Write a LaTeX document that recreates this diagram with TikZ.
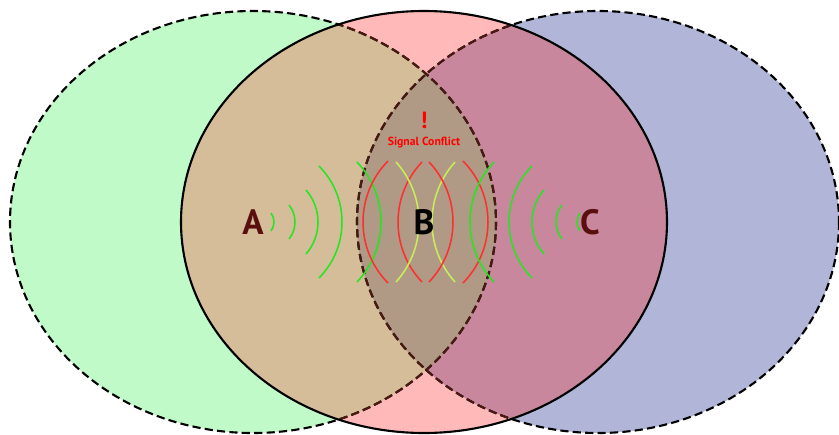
\documentclass[tikz,border=0pt]{standalone}
\usepackage{fontspec}
\setmainfont{PT Sans}
\usepackage{xcolor}
\usepackage{tikz}
\definecolor{zonegreen}{HTML}{C0FAC8}
\definecolor{zonepink}{HTML}{FFB9B9}
\definecolor{zoneblue}{HTML}{B1B5D7}
\definecolor{mixab}{HTML}{D5BD99}
\definecolor{mixbc}{HTML}{C9879D}
\definecolor{mixabc}{HTML}{B09A85}
\definecolor{lensbrown}{HTML}{4A1A12}
\definecolor{wavegreen}{HTML}{22E622}
\definecolor{wavered}{HTML}{FF2E2E}
\definecolor{waveyellow}{HTML}{C8EE5A}
\definecolor{apname}{HTML}{5A0F0F}

\begin{document}
\begin{tikzpicture}[x=0.3mm,y=-0.3mm,
    zone/.style={line width=1.8pt},
    zonedash/.style={zone,dash pattern=on 7pt off 3.6pt},
    wave/.style={line width=1.3pt},
    apfont/.style={font=\fontsize{30}{30}\selectfont\bfseries}]
  % Three overlapping coverage zones, A / B / C, pixel units (y down)
  \def\cy{222}          % common centre line
  \def\rx{243}          % x radius
  \def\ry{211}          % y radius
  \def\ca{253}          % centre of zone A
  \def\cb{424}          % centre of zone B
  \def\cc{598}          % centre of zone C
  \useasboundingbox (0,0) rectangle (839,435);
  % --- Zone fills ---
  \fill[zonegreen] (\ca,\cy) ellipse[x radius=\rx,y radius=\ry];
  \fill[zoneblue]  (\cc,\cy) ellipse[x radius=241,y radius=\ry];
  \fill[zonepink]  (\cb,\cy) ellipse[x radius=\rx,y radius=\ry];
  % --- Overlaps ---
  \begin{scope}
    \clip (\cb,\cy) ellipse[x radius=\rx,y radius=\ry];
    \fill[mixab] (\ca,\cy) ellipse[x radius=\rx,y radius=\ry];
    \fill[mixbc] (\cc,\cy) ellipse[x radius=241,y radius=\ry];
    \clip (\ca,\cy) ellipse[x radius=\rx,y radius=\ry];
    \fill[mixabc] (\cc,\cy) ellipse[x radius=241,y radius=\ry];
  \end{scope}
  % --- Borders: A and C dashed, B solid ---
  \draw[zonedash] (\ca,\cy) ellipse[x radius=\rx,y radius=\ry];
  \draw[zonedash] (\cc,\cy) ellipse[x radius=241,y radius=\ry];
  \begin{scope}
    \clip (\cb,\cy) ellipse[x radius=\rx,y radius=\ry];
    \draw[zonedash,lensbrown] (\ca,\cy) ellipse[x radius=\rx,y radius=\ry];
    \draw[zonedash,lensbrown] (\cc,\cy) ellipse[x radius=241,y radius=\ry];
  \end{scope}
  \draw[zone] (\cb,\cy) ellipse[x radius=\rx,y radius=\ry];
  % --- Waves: apex x / half height / bulge (+ right, - left) / colour ---
  \foreach \ax/\hh/\sg/\col in {274/9/3/wavegreen, 295/17/6/wavegreen,
      318/32/12/wavegreen, 342/56/23/wavegreen, 381/60/24/wavegreen,
      363/61/-25/wavered, 398/60/-24/wavered, 419/60/23/waveyellow,
      432/60/-23/waveyellow, 453/60/24/wavered, 488/61/25/wavered,
      470/60/-24/wavegreen, 509/56/-23/wavegreen, 532/32/-12/wavegreen,
      556/17/-6/wavegreen, 577/9/-3/wavegreen} {
    \pgfmathsetmacro{\rr}{(\hh*\hh+\sg*\sg)/(2*abs(\sg))}
    \pgfmathsetmacro{\al}{asin(\hh/\rr)}
    \pgfmathsetmacro{\sn}{sign(\sg)}
    \pgfmathsetmacro{\sa}{90-\sn*(90-\al)}
    \pgfmathsetmacro{\ea}{90-\sn*(90+\al)}
    \pgfmathsetmacro{\rp}{\rr*0.3*2.845276}
    \draw[wave,\col] ({\ax-\sg},{\cy-\hh})
      arc[start angle=\sa,end angle=\ea,radius=\rp pt];
  }
  % --- Labels ---
  \node[apfont,apname] (apA) at (\ca,\cy) {A};
  \node[apfont,black]  (apB) at (\cb,\cy) {B};
  \node[apfont,apname] (apC) at (590,\cy) {C};
  \node[font=\fontsize{20}{20}\selectfont\bfseries,red] (bang) at (424,120) {!};
  \node[font=\fontsize{10}{10}\selectfont\bfseries,red] (conflict) at (424,143)
    {Signal Conflict};
\end{tikzpicture}
\end{document}
